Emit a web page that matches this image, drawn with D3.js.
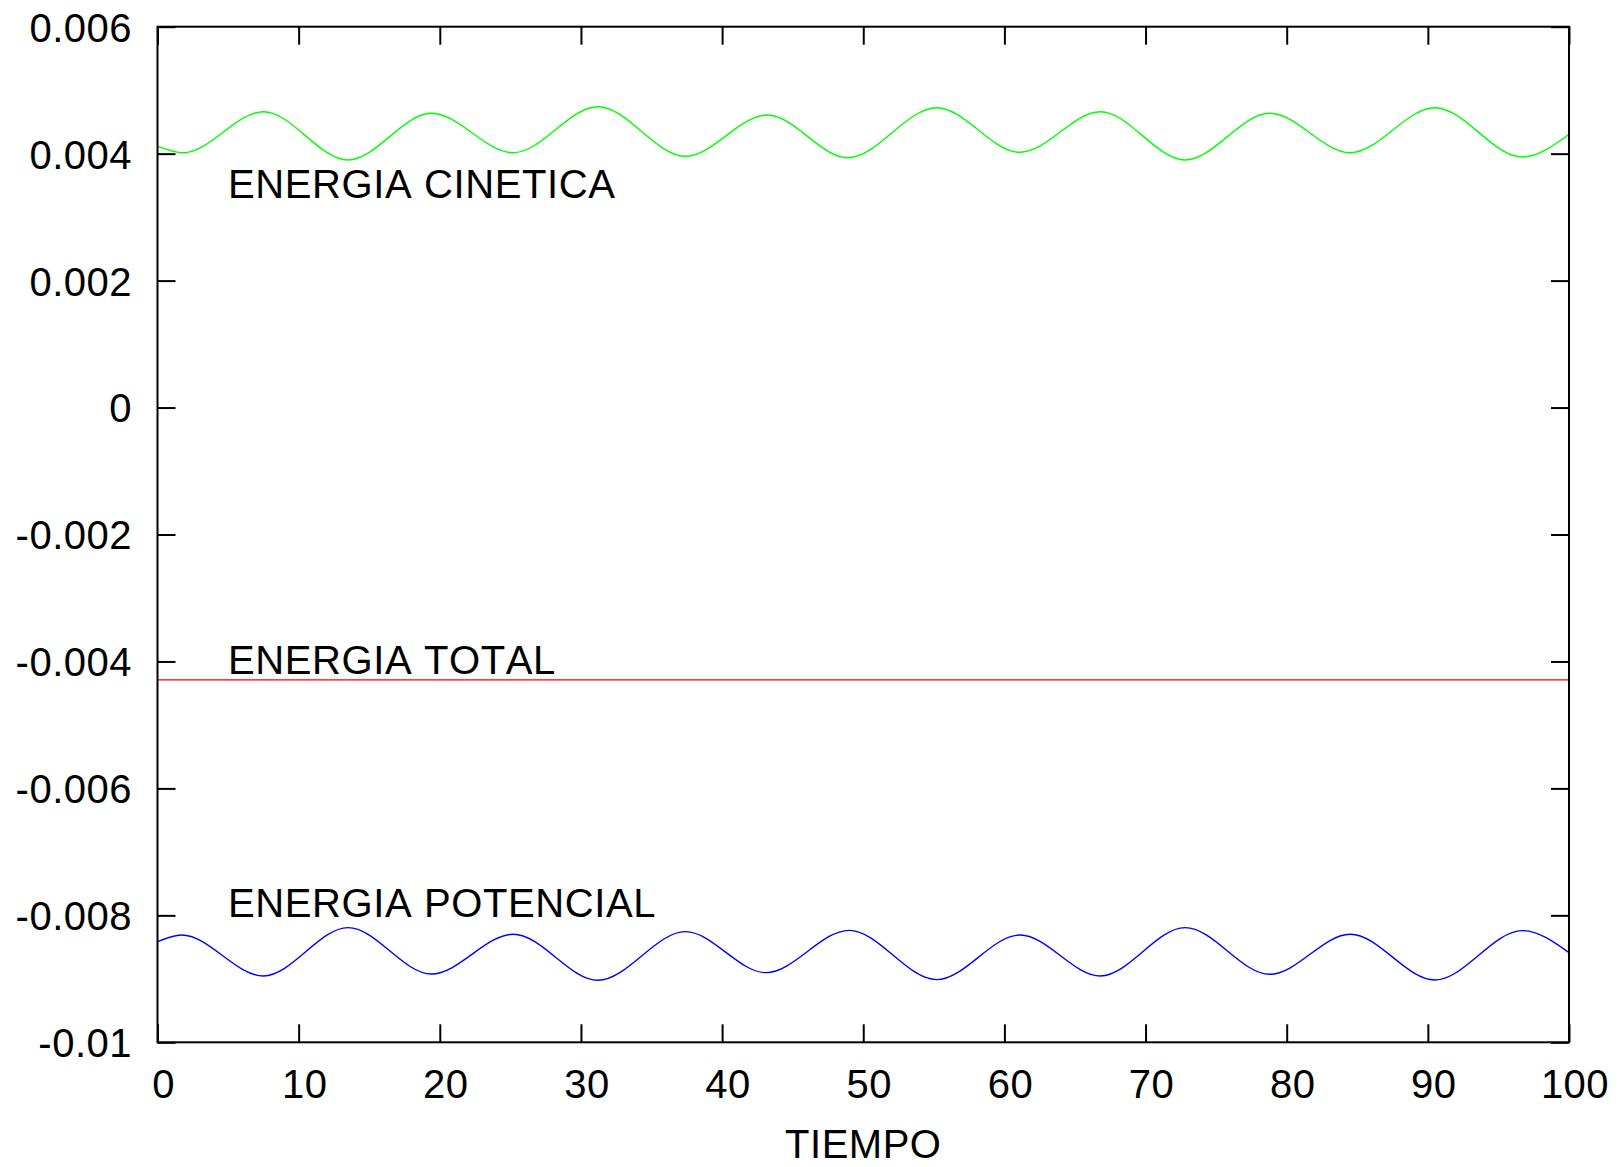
<!DOCTYPE html>
<html>
<head>
<meta charset="utf-8">
<script src="https://cdn.jsdelivr.net/npm/d3@7"></script>
<style>
  html, body { margin: 0; padding: 0; background: #fff; }
  svg { display: block; }
  text { font-family: "Liberation Sans", Arial, Helvetica, sans-serif; fill: #000; font-kerning: none; }
</style>
</head>
<body>
<svg id="chart" width="1619" height="1167"></svg>
<script>
// ---- Data ----
const xTicks = [0, 10, 20, 30, 40, 50, 60, 70, 80, 90, 100];
const yTicks = [0.006, 0.004, 0.002, 0, -0.002, -0.004, -0.006, -0.008, -0.01];
const yTickLabels = ["0.006", "0.004", "0.002", "0", "-0.002", "-0.004", "-0.006", "-0.008", "-0.01"];

const kineticT = [0, 1.8, 7.5, 13.5, 19.4, 25.2, 31.2, 37.4, 43.2, 48.9, 55.2, 61.1, 66.8, 72.8, 78.8, 84.5, 90.5, 96.7, 100];
const kineticE = [0.00412, 0.004015, 0.004661, 0.0039, 0.004636, 0.004015, 0.00474, 0.003958, 0.004609, 0.003936, 0.004724, 0.004021, 0.004661, 0.0039, 0.004636, 0.004015, 0.004724, 0.003947, 0.004305];

const potentialT = [0, 1.7, 7.5, 13.5, 19.4, 25.2, 31.2, 37.4, 43.1, 49.0, 55.2, 61.1, 66.8, 72.8, 78.8, 84.5, 90.5, 96.7, 100];
const potentialE = [-0.008415, -0.00831, -0.008955, -0.008194, -0.008924, -0.008298, -0.009023, -0.008257, -0.008903, -0.008236, -0.009013, -0.00831, -0.008955, -0.008194, -0.008929, -0.008298, -0.009018, -0.00824, -0.008588];

const totalT = [0, 100];
const totalE = [-0.00429, -0.00429];

const labelTexts = ["ENERGIA CINETICA", "ENERGIA TOTAL", "ENERGIA POTENCIAL"];
const labelYs = [0.0035, -0.004, -0.00783];
const xTitle = "TIEMPO";

// ---- Layout ----
const L = 157.5, R = 1569, T = 26.7, B = 1042.3;
const svg = d3.select("#chart");

const x = d3.scaleLinear().domain([0, 100]).range([L, R]);
const y = d3.scaleLinear().domain([-0.01, 0.006]).range([B, T]);

// ---- Axes (ticks pointing inward, mirrored) ----
const tickLen = 18;
const axStyle = g => {
  g.select(".domain").remove();
  g.selectAll(".tick line").attr("stroke", "#000").attr("stroke-width", 2);
};

svg.append("g").attr("transform", `translate(0,${B})`)
  .call(d3.axisBottom(x).tickValues(xTicks).tickSizeInner(-tickLen).tickSizeOuter(0).tickFormat(d3.format("d")))
  .call(axStyle)
  .call(g => g.selectAll(".tick text")
    .attr("font-size", 40).attr("dy", null).attr("y", 55.5).attr("x", 5.5)
    .style("letter-spacing", "0.5px")
    .style("font-family", "'Liberation Sans', Arial, sans-serif").attr("fill", "#000"));

svg.append("g").attr("transform", `translate(0,${T})`)
  .call(d3.axisTop(x).tickValues(xTicks).tickSizeInner(-tickLen).tickSizeOuter(0).tickFormat(""))
  .call(axStyle);

svg.append("g").attr("transform", `translate(${L},0)`)
  .call(d3.axisLeft(y).tickValues(yTicks).tickSizeInner(-tickLen).tickSizeOuter(0)
    .tickFormat((d, i) => yTickLabels[i]))
  .call(axStyle)
  .call(g => g.selectAll(".tick text")
    .attr("font-size", 40).attr("x", -25.5).attr("dy", "0.36em")
    .style("letter-spacing", "0.5px")
    .style("font-family", "'Liberation Sans', Arial, sans-serif").attr("fill", "#000"));

svg.append("g").attr("transform", `translate(${R},0)`)
  .call(d3.axisRight(y).tickValues(yTicks).tickSizeInner(-tickLen).tickSizeOuter(0).tickFormat(""))
  .call(axStyle);

// ---- Lines ----
const line = d3.line().x(d => x(d[0])).y(d => y(d[1])).curve(d3.curveMonotoneX);
const series = [
  { t: kineticT, v: kineticE, color: "#00ff00" },
  { t: totalT, v: totalE, color: "#ff0000" },
  { t: potentialT, v: potentialE, color: "#0000ff" }
];
series.forEach(s => {
  svg.append("path")
    .datum(s.t.map((t, i) => [t, s.v[i]]))
    .attr("d", line)
    .attr("fill", "none")
    .attr("stroke", s.color)
    .attr("stroke-width", 1.4);
});

// ---- Border ----
svg.append("rect")
  .attr("x", L).attr("y", T).attr("width", R - L).attr("height", B - T)
  .attr("fill", "none").attr("stroke", "#000").attr("stroke-width", 2);

// ---- Labels ----
labelTexts.forEach((txt, i) => {
  svg.append("text")
    .attr("x", x(5))
    .attr("y", y(labelYs[i]))
    .attr("dy", "0.31em")
    .attr("font-size", 40)
    .style("letter-spacing", "0.6px")
    .text(txt);
});

svg.append("text")
  .attr("x", (L + R) / 2)
  .attr("y", 1158.3)
  .attr("text-anchor", "middle")
  .attr("font-size", 40)
  .style("letter-spacing", "0.5px")
  .text(xTitle);
</script>
</body>
</html>
